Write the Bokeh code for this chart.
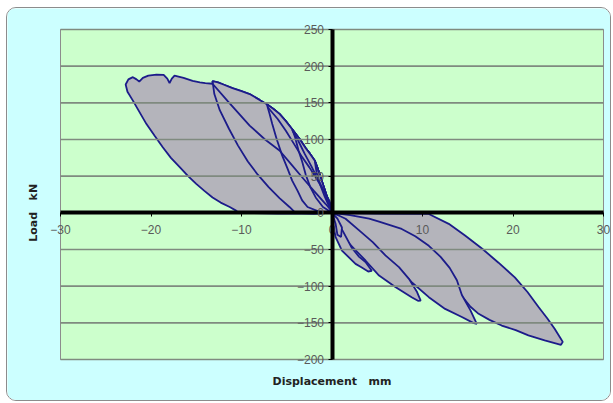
import math
from bokeh.plotting import figure
from bokeh.models import Range1d, FixedTicker, Label
from bokeh.embed import file_html
from bokeh.resources import INLINE

# ---- axis ticks ----
x_ticks = [-30, -20, -10, 0, 10, 20, 30]
y_ticks = [-200, -150, -100, -50, 0, 50, 100, 150, 200, 250]

# ---- shared left envelope (upper edge of left loops) ----
env_x = [0, -0.2, -0.5, -0.9, -1.3, -1.6, -1.9, -2.4, -2.9, -3.6, -4.4, -5.1, -5.8, -6.5, -7.2,
         -8.0, -9.1, -10.0, -11.0, -12.0, -12.6, -13.2]
env_y = [0, 10, 20, 35, 50, 61, 71, 80, 88, 101, 114, 125, 135, 142, 148,
         154, 162, 166, 170, 175, 178, 179.5]

# ---- left loops (negative displacement, positive load) ----
L1_top_x = [-13.2, -14.0, -14.6, -15.4, -16.4, -17.4, -17.7, -17.95, -18.2, -18.6, -19.4, -20.3,
            -20.9, -21.3, -21.6, -22.0, -22.5, -22.8]
L1_top_y = [176, 177, 178, 180, 184, 187, 183, 177, 183, 188, 188.6, 187,
            184, 179, 182, 185, 182, 175]
L1_low_x = [-22.6, -22.0, -21.3, -20.5, -19.6, -18.7, -17.8, -16.8, -15.9, -15.0, -14.1, -13.2,
            -12.3, -11.3, -10.6, -10.3, -6.0, -2.0, 0]
L1_low_y = [165, 153, 138, 121, 105, 89.5, 75, 62, 50, 39.5, 30, 21,
            14, 8, 3, 0, -1, -1, 0]

L2_low_x = [-13.2, -13.0, -12.4, -11.4, -10.4, -9.3, -8.2, -7.0, -5.8, -4.7, -4.2, -4.0, -2.0, 0]
L2_low_y = [179.5, 162, 140, 115, 92, 70, 52, 35, 20, 8, 2, 0, -1, 0]

L3_low_x = [-7.2, -6.9, -6.6, -6.1, -5.5, -4.9, -4.4, -3.8, -3.3, -2.7, -1.5, 0]
L3_low_y = [148, 135, 121, 100, 78, 60, 44, 30, 17, 8, 2, 0]

L4_low_x = [-4.4, -4.1, -3.7, -3.3, -2.9, -2.4, -1.8, -1.0, 0]
L4_low_y = [114, 104, 85, 70, 52, 35, 21, 8, 0]

L5_low_x = [-1.9, -1.7, -1.3, -0.8, -0.3, 0]
L5_low_y = [71, 55, 38, 22, 8, 0]

# extra left branches
lb_x = [-13.2, -11.5, -9.1, -7.4, -5.8, -4.5, -3.3, -2.0, -0.7, 0]
lb_y = [176, 152, 119, 100, 85, 66, 48.5, 30, 12, 2]
lc_x = [-7.1, -6.0, -5.1, -4.2, -3.3, -2.5, -1.8, -1.0, -0.3, 0]
lc_y = [144, 128, 112, 94, 76, 62, 48.5, 32, 17, 5]
ld_x = [-4.4, -3.8, -3.0, -2.3, -1.6, -0.9, -0.3]
ld_y = [113, 100, 80, 64, 47, 30, 12]

# ---- right loops (positive displacement, negative load) ----
R1_up_x = [0, 5.0, 10.7, 12.9, 14.7, 16.6, 18.4, 20.2, 21.6, 22.8, 23.8, 24.6, 25.2, 25.5, 25.3]
R1_up_y = [0, -1, -1.5, -15, -31, -49, -68, -88, -108, -128, -144, -158, -170, -176, -180]
R1_low_x = [25.0, 23.5, 21.7, 20.3, 18.75, 17.4, 16.2, 15.3, 14.5, 13.6, 12.5, 10.7, 8.8, 6.6, 4.1, 2.0, 0]
R1_low_y = [-179, -174, -167, -160, -153.7, -146, -137.7, -128, -116, -101.4, -88, -67, -49, -31, -17, -7, 0]

R2_up_x = [0, 2.0, 4.1, 5.2, 7.7, 9.2, 10.7, 12.0, 13.0, 13.8, 14.35, 15.3, 16.0]
R2_up_y = [0, -3, -8, -12, -22, -32, -45, -60, -75, -92, -112, -133, -151.4]
R2_low_x = [15.6, 14.35, 12.5, 10.7, 8.8, 7.0, 5.2, 3.5, 2.0, 0.8, 0]
R2_low_y = [-150, -142, -131, -115, -94.6, -72, -51, -32, -17, -6, 0]

R3_up_x = [0, 0.8, 1.5, 3.0, 4.5, 5.9, 7.4, 8.5, 9.4, 9.8]
R3_up_y = [0, -4, -8, -24, -40, -58, -74, -90, -108, -119.6]
R3_low_x = [9.5, 8.8, 7.0, 5.2, 3.7, 1.9, 0.8, 0.3, 0]
R3_low_y = [-120, -115, -101, -85.5, -65, -42, -24, -10, 0]

R4_up_x = [0, 0.5, 1.2, 2.2, 3.0, 3.7, 4.4]
R4_up_y = [0, -10, -25, -48, -60, -67, -79]
R4_low_x = [4.0, 3.2, 2.6, 1.1, 0.4, 0.1, 0]
R4_low_y = [-80, -74, -69.6, -51.5, -33, -15, 0]

R5_x = [0, 0.6, 1.1, 1.0, 0.6, 0.4, 0]
R5_y = [0, -8, -20, -33, -30, -15, 0]

FILL = "#b4b4bb"
LINE = "#1c1c8a"
GRID = "#7f8a7f"
PLOT_BG = "#ccffcc"
CHART_BG = "#ccffff"
TICK_FONT = "Liberation Sans"
TICK_COLOR = "#5a5a5a"
NB = "\u00a0"

loops_x = [
    env_x + L1_top_x + L1_low_x,
    env_x + L2_low_x,
    env_x[:15] + L3_low_x,
    env_x[:11] + L4_low_x,
    env_x[:7] + L5_low_x,
    R1_up_x + R1_low_x,
    R2_up_x + R2_low_x,
    R3_up_x + R3_low_x,
    R4_up_x + R4_low_x,
    R5_x,
]
loops_y = [
    env_y + L1_top_y + L1_low_y,
    env_y + L2_low_y,
    env_y[:15] + L3_low_y,
    env_y[:11] + L4_low_y,
    env_y[:7] + L5_low_y,
    R1_up_y + R1_low_y,
    R2_up_y + R2_low_y,
    R3_up_y + R3_low_y,
    R4_up_y + R4_low_y,
    R5_y,
]

# ---- layout (pixels) ----
W, H = 603, 392                 # canvas size
PL, PT, PW, PH = 53, 21, 543, 330   # plot-area box inside the canvas
xmin, xmax = x_ticks[0], x_ticks[-1]
ymin, ymax = y_ticks[0], y_ticks[-1]
kx = PW / (xmax - xmin)
ky = PH / (ymax - ymin)
x_range = Range1d(xmin - PL / kx, xmax + (W - PL - PW) / kx)
y_range = Range1d(ymin - (H - PT - PH) / ky, ymax + PT / ky)

p = figure(frame_width=W, frame_height=H, min_border=0,
           x_range=x_range, y_range=y_range,
           output_backend="svg", toolbar_location=None,
           background_fill_color=CHART_BG, border_fill_color=CHART_BG,
           outline_line_color=None)

p.styles = {"margin-left": "6px", "margin-top": "7px", "border-radius": "10px",
            "overflow": "hidden", "border": "1.5px solid #8c8c8c"}
p.grid.visible = False

# plot area
p.quad(left=xmin, right=xmax, bottom=ymin, top=ymax, fill_color=PLOT_BG,
       line_color="#8c8c8c", line_width=1)

p.patches(loops_x, loops_y, fill_color=FILL, line_color=LINE, line_width=1.8)
p.multi_line([lb_x, lc_x, ld_x], [lb_y, lc_y, ld_y], line_color=LINE, line_width=1.8)

# horizontal grid lines over the fill
p.segment(x0=[xmin] * len(y_ticks), x1=[xmax] * len(y_ticks), y0=y_ticks, y1=y_ticks,
          line_color=GRID, line_width=1.6)

for ax, ticks, bnds in ((p.xaxis, x_ticks, (xmin, xmax)), (p.yaxis, y_ticks, (ymin, ymax))):
    ax.fixed_location = 0
    ax.bounds = bnds
    ax.ticker = FixedTicker(ticks=ticks)
    ax.axis_line_color = "black"
    ax.axis_line_width = 4
    ax.major_tick_line_color = "black"
    ax.major_tick_out = 4
    ax.major_tick_in = 0
    ax.minor_tick_line_color = None
    ax.major_label_text_font = TICK_FONT
    ax.major_label_text_font_size = "12px"
    ax.major_label_text_color = TICK_COLOR
p.xaxis.major_label_standoff = 8
p.yaxis.major_label_standoff = 4

# axis titles
p.add_layout(Label(x=0, y=ymin, y_offset=-22, text="Displacement" + NB * 3 + "mm",
                   text_align="center", text_baseline="middle",
                   text_font="DejaVu Sans", text_font_size="11px", text_font_style="bold",
                   text_color="#222222"))
p.add_layout(Label(x=xmin, y=0, x_offset=-27, text="Load" + NB * 3 + "kN",
                   angle=math.pi / 2, text_align="center", text_baseline="middle",
                   text_font="DejaVu Sans", text_font_size="11px", text_font_style="bold",
                   text_color="#222222"))

open("out.html", "w").write(file_html(p, INLINE))
